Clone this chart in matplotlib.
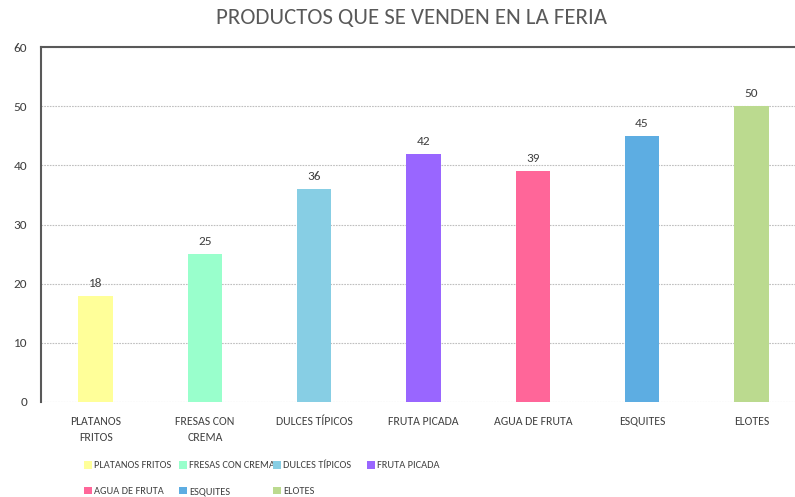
import matplotlib
matplotlib.use("Agg")
import matplotlib.pyplot as plt
from matplotlib.patches import Patch

plt.rcParams['font.family'] = ['Carlito', 'Lato', 'DejaVu Sans']

categories = ["PLATANOS FRITOS", "FRESAS CON CREMA", "DULCES TÍPICOS", "FRUTA PICADA",
              "AGUA DE FRUTA", "ESQUITES", "ELOTES"]
tick_labels = ["PLATANOS\nFRITOS", "FRESAS CON\nCREMA", "DULCES TÍPICOS", "FRUTA PICADA",
               "AGUA DE FRUTA", "ESQUITES", "ELOTES"]
values = [18, 25, 36, 42, 39, 45, 50]
colors = ["#FFFF99", "#99FFCC", "#87CEE4", "#9966FF", "#FF6699", "#5DADE2", "#BBDA8F"]
yticks = [0, 10, 20, 30, 40, 50, 60]

W, H = 795, 497
fig = plt.figure(figsize=(W / 100, H / 100), dpi=100)
left, right, top, bottom = 41, 806, 47, 402
ax = fig.add_axes([left / W, 1 - bottom / H, (right - left) / W, (bottom - top) / H])

x = list(range(len(categories)))
ax.bar(x, values, width=0.315, color=colors, zorder=3)
ax.set_xlim(-0.5, len(categories) - 0.5)
ax.set_ylim(0, 60)
ax.set_yticks(yticks)
ax.set_xticks(x)
ax.set_xticklabels(tick_labels, fontsize=8.5, color="#404040", linespacing=1.6)
ax.tick_params(axis='y', labelsize=9.5, labelcolor="#404040", length=0, pad=10)
ax.tick_params(axis='x', length=0, pad=10)

ax.grid(axis='y', color="#BFBFBF", linestyle=(0, (1.5, 1)), linewidth=0.8, zorder=0)
for s in ['right', 'bottom']:
    ax.spines[s].set_visible(False)
ax.spines['left'].set_color("#595959")
ax.spines['left'].set_linewidth(1.5)
ax.spines['top'].set_color("#595959")
ax.spines['top'].set_linewidth(1.5)

for xi, v in zip(x, values):
    ax.annotate(str(v), (xi, v), xytext=(0, 5), textcoords='offset points',
                ha='center', va='bottom', fontsize=9.5, color="#404040")

fig.text(411 / W, 1 - 18 / H, "PRODUCTOS QUE SE VENDEN EN LA FERIA", ha='center', va='center',
         fontsize=16.5, color="#595959")

handles = [Patch(facecolor=c, edgecolor='none') for c in colors]
# Excel-style legend: 4 equally spaced columns, filled row by row
col_x = [84, 179, 273, 367]
ncol = 4
for c in range(ncol):
    idx = list(range(c, len(categories), ncol))
    leg = fig.legend([handles[i] for i in idx], [categories[i] for i in idx],
                     loc='upper left', bbox_to_anchor=(col_x[c] / W, 1 - 461 / H),
                     frameon=False, fontsize=7.5, handlelength=0.75, handleheight=0.75,
                     handletextpad=0.2, labelspacing=1.55,
                     borderpad=0, borderaxespad=0)
    for t in leg.get_texts():
        t.set_color("#404040")

fig.savefig("out.png", dpi=100)
